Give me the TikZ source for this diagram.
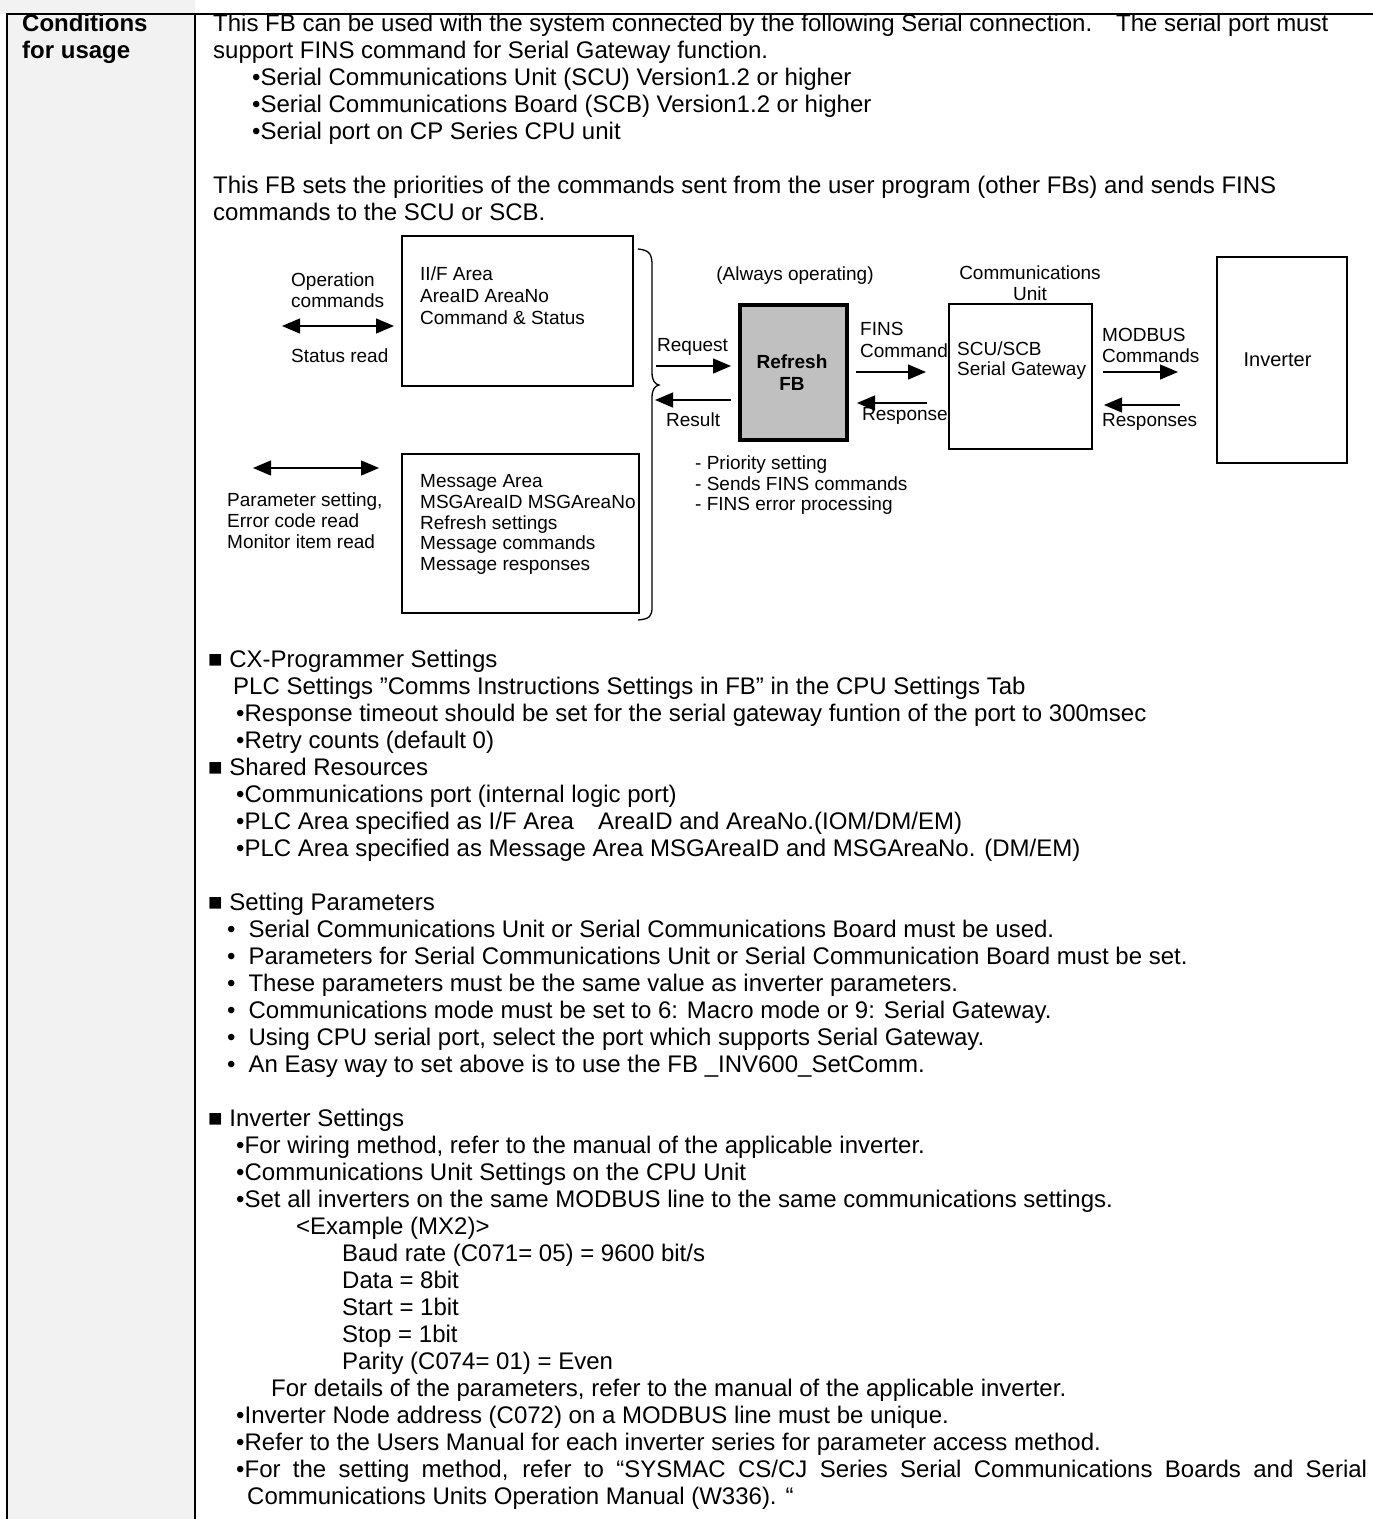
\documentclass[tikz,border=0pt]{standalone}
\usepackage{fontspec}
\setmainfont{Liberation Sans}
\usetikzlibrary{arrows.meta}

\definecolor{headgray}{HTML}{F2F2F2}
\definecolor{fbgray}{HTML}{C0C0C0}

\begin{document}
\begin{tikzpicture}[
    x=1pt, y=-1pt,
    body/.style={anchor=base west, inner sep=0pt, font=\fontsize{24}{27}\selectfont},
    lbl/.style={anchor=base west, inner sep=0pt, font=\fontsize{19}{21}\selectfont},
    clbl/.style={lbl, anchor=base},
    box/.style={draw, line width=1.5pt, inner sep=0pt, font=\fontsize{19}{21}\selectfont},
    line/.style={-{Triangle[length=18pt,width=15pt]}, line width=1.3pt},
    both/.style={{Triangle[length=18pt,width=15pt]}-{Triangle[length=18pt,width=15pt]}, line width=1.3pt}
]
    \useasboundingbox (0,0) rectangle (1373,1519);

    % Table frame
    \fill[headgray] (0,0) rectangle (195,1519);
    \fill[white] (0,14) rectangle (7,1519);
    \draw[line width=2pt] (7,1519) -- (7,14) -- (1373,14);
    \draw[line width=2pt] (195,14) -- (195,1519);
    \node[body, font=\fontsize{24}{27}\selectfont\bfseries] (head1) at (22,31) {Conditions};
    \node[body, font=\fontsize{24}{27}\selectfont\bfseries] (head2) at (22,58) {for usage};

    % Intro text
    \node[body] (intro1) at (213,31) {This FB can be used with the system connected by the following Serial connection.\hspace{1em}The serial port must};
    \node[body] (intro2) at (213,58) {support FINS command for Serial Gateway function.};
    \node[body] (intro3) at (252,85) {•Serial Communications Unit (SCU) Version1.2 or higher};
    \node[body] (intro4) at (252,112) {•Serial Communications Board (SCB) Version1.2 or higher};
    \node[body] (intro5) at (252,139) {•Serial port on CP Series CPU unit};
    \node[body] (intro6) at (213,193) {This FB sets the priorities of the commands sent from the user program (other FBs) and sends FINS};
    \node[body] (intro7) at (213,220) {commands to the SCU or SCB.};

    % Diagram: areas
    \node[box, minimum width=231pt, minimum height=150pt] (ifarea) at (517.5,311) {};
    \node[lbl] (if1) at (420,280) {II/F Area};
    \node[lbl] (if2) at (420,302) {AreaID AreaNo};
    \node[lbl] (if3) at (420,324) {Command \& Status};

    \node[box, minimum width=237pt, minimum height=159pt] (msgarea) at (520.5,533.5) {};
    \node[lbl] (msg1) at (420,487) {Message Area};
    \node[lbl] (msg2) at (420,508) {MSGAreaID MSGAreaNo};
    \node[lbl] (msg3) at (420,529) {Refresh settings};
    \node[lbl] (msg4) at (420,549) {Message commands};
    \node[lbl] (msg5) at (420,570) {Message responses};

    % User side
    \node[lbl] (op1) at (291,286) {Operation};
    \node[lbl] (op2) at (291,307) {commands};
    \node[lbl] (op3) at (291,362) {Status read};
    \coordinate (opl) at (282,326);
    \coordinate (opr) at (394,326);
    \draw[both] (opl) -- (opr);

    \coordinate (parl) at (253,468);
    \coordinate (parr) at (379,468);
    \draw[both] (parl) -- (parr);
    \node[lbl] (par1) at (227,506) {Parameter setting,};
    \node[lbl] (par2) at (227,527) {Error code read};
    \node[lbl] (par3) at (227,548) {Monitor item read};

    % Brace
    \draw[line width=1.3pt] (638,249) .. controls (650,250) and (652,255) .. (652,265)
        -- (652,372) .. controls (652,381) and (655,384) .. (659,385)
        .. controls (655,386) and (652,389) .. (652,398)
        -- (652,607) .. controls (652,616) and (650,619) .. (638,620);

    % Refresh FB
    \node[clbl] (always) at (795,280) {(Always operating)};
    \node[draw, line width=4pt, fill=fbgray, minimum width=107pt, minimum height=135pt] (refresh) at (793.5,372.5) {};
    \node[clbl, font=\fontsize{19}{21}\selectfont\bfseries] (ref1) at (792,368) {Refresh};
    \node[clbl, font=\fontsize{19}{21}\selectfont\bfseries] (ref2) at (792,390) {FB};
    \node[lbl] (task1) at (695,469) {- Priority setting};
    \node[lbl] (task2) at (695,490) {- Sends FINS commands};
    \node[lbl] (task3) at (695,510) {- FINS error processing};

    \node[lbl] (request) at (657,351) {Request};
    \coordinate (reqs) at (656,366);
    \coordinate (reqe) at (731,366);
    \draw[line] (reqs) -- (reqe);
    \coordinate (ress) at (731,400);
    \coordinate (rese) at (655,400);
    \draw[line] (ress) -- (rese);
    \node[lbl] (result) at (666,426) {Result};

    % FINS
    \node[lbl] (fins1) at (860,335) {FINS};
    \node[lbl] (fins2) at (860,357) {Command};
    \coordinate (fcs) at (856,372);
    \coordinate (fce) at (926,372);
    \draw[line] (fcs) -- (fce);
    \coordinate (frs) at (927,403);
    \coordinate (fre) at (857,403);
    \draw[line] (frs) -- (fre);
    \node[lbl] (fresp) at (862,420) {Response};

    % Communications unit
    \node[clbl] (cu1) at (1030,279) {Communications};
    \node[clbl] (cu2) at (1030,300) {Unit};
    \node[box, minimum width=143pt, minimum height=145pt] (scu) at (1020.5,376.5) {};
    \node[lbl] (scu1) at (957,355) {SCU/SCB};
    \node[lbl] (scu2) at (957,375) {Serial Gateway};

    % MODBUS
    \node[lbl] (mb1) at (1102,341) {MODBUS};
    \node[lbl] (mb2) at (1102,362) {Commands};
    \coordinate (mcs) at (1103,372);
    \coordinate (mce) at (1178,372);
    \draw[line] (mcs) -- (mce);
    \coordinate (mrs) at (1180,405);
    \coordinate (mre) at (1104,405);
    \draw[line] (mrs) -- (mre);
    \node[lbl] (mresp) at (1102,426) {Responses};

    \node[box, minimum width=130pt, minimum height=206pt, font=\fontsize{20}{22}\selectfont] (inverter) at (1282,360) {\hspace*{-9pt}Inverter};

    % Settings text
    \node[body] (s0) at (208,667) {■ CX-Programmer Settings};
    \node[body] (s1) at (233,694) {PLC Settings ”Comms Instructions Settings in FB” in the CPU Settings Tab};
    \node[body] (s2) at (236,721) {•Response timeout should be set for the serial gateway funtion of the port to 300msec};
    \node[body] (s3) at (236,748) {•Retry counts (default 0)};
    \node[body] (s4) at (208,775) {■ Shared Resources};
    \node[body] (s5) at (236,802) {•Communications port (internal logic port)};
    \node[body] (s6) at (236,829) {•PLC Area specified as I/F Area\hspace{1em}AreaID and AreaNo.(IOM/DM/EM)};
    \node[body] (s7) at (236,856) {•PLC Area specified as Message Area MSGAreaID and MSGAreaNo. (DM/EM)};

    \node[body] (s9) at (208,910) {■ Setting Parameters};
    \node[body] (s10) at (227,937) {•\hspace{13pt}Serial Communications Unit or Serial Communications Board must be used.};
    \node[body] (s11) at (227,964) {•\hspace{13pt}Parameters for Serial Communications Unit or Serial Communication Board must be set.};
    \node[body] (s12) at (227,991) {•\hspace{13pt}These parameters must be the same value as inverter parameters.};
    \node[body] (s13) at (227,1018) {•\hspace{13pt}Communications mode must be set to 6: Macro mode or 9: Serial Gateway.};
    \node[body] (s14) at (227,1045) {•\hspace{13pt}Using CPU serial port, select the port which supports Serial Gateway.};
    \node[body] (s15) at (227,1072) {•\hspace{13pt}An Easy way to set above is to use the FB \_INV600\_SetComm.};

    \node[body] (s17) at (208,1126) {■ Inverter Settings};
    \node[body] (s18) at (236,1153) {•For wiring method, refer to the manual of the applicable inverter.};
    \node[body] (s19) at (236,1180) {•Communications Unit Settings on the CPU Unit};
    \node[body] (s20) at (236,1207) {•Set all inverters on the same MODBUS line to the same communications settings.};
    \node[body] (s21) at (296,1234) {<Example (MX2)>};
    \node[body] (s22) at (342,1261) {Baud rate (C071= 05) = 9600 bit/s};
    \node[body] (s23) at (342,1288) {Data = 8bit};
    \node[body] (s24) at (342,1315) {Start = 1bit};
    \node[body] (s25) at (342,1342) {Stop = 1bit};
    \node[body] (s26) at (342,1369) {Parity (C074= 01) = Even};
    \node[body] (s27) at (271,1396) {For details of the parameters, refer to the manual of the applicable inverter.};
    \node[body] (s28) at (236,1423) {•Inverter Node address (C072) on a MODBUS line must be unique.};
    \node[body] (s29) at (236,1450) {•Refer to the Users Manual for each inverter series for parameter access method.};
    \node[body] (s30) at (236,1477) {\makebox[1131pt][s]{•For the setting method, refer to “SYSMAC CS/CJ Series Serial Communications Boards and Serial}};
    \node[body] (s31) at (247,1504) {Communications Units Operation Manual (W336). “};

\end{tikzpicture}
\end{document}
